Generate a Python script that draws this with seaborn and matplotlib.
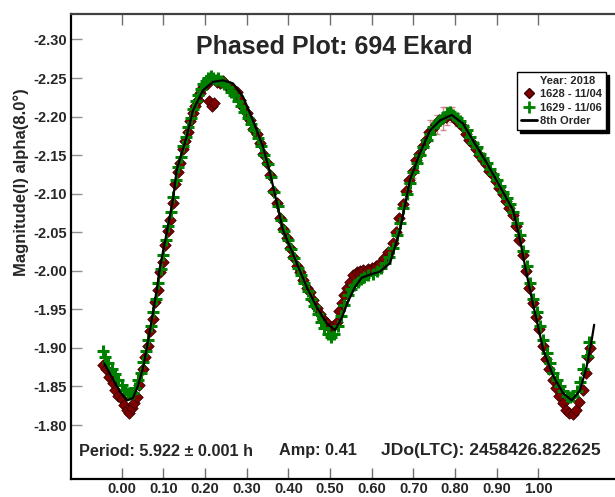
import numpy as np
import matplotlib
matplotlib.use("Agg")
import matplotlib.pyplot as plt
from matplotlib.lines import Line2D
import seaborn as sns

# 1628 - 11/04 (dark red diamonds)
red_phase = [-0.045, -0.038, -0.030, -0.022, -0.015, -0.008, 0.000, 0.006, 0.012, 0.018,
             0.024, 0.030, 0.036, 0.042, 0.050, 0.056, 0.062, 0.068, 0.074, 0.080,
             0.086, 0.092, 0.098, 0.104, 0.110, 0.116, 0.122, 0.128, 0.134, 0.140,
             0.146, 0.152, 0.158, 0.164, 0.170, 0.176, 0.182, 0.188, 0.196, 0.204,
             0.210, 0.216, 0.222, 0.228, 0.236, 0.244, 0.252, 0.260, 0.268, 0.276,
             0.284, 0.292, 0.300, 0.308, 0.316, 0.324, 0.332, 0.340, 0.348, 0.356,
             0.364, 0.372, 0.380, 0.388, 0.396, 0.404, 0.412, 0.420, 0.428, 0.436,
             0.444, 0.452, 0.460, 0.468, 0.476, 0.484, 0.492, 0.500, 0.508, 0.516,
             0.522, 0.528, 0.534, 0.540, 0.548, 0.556, 0.564, 0.572, 0.580, 0.590,
             0.600, 0.610, 0.620, 0.630, 0.640, 0.650, 0.658, 0.666, 0.674, 0.682,
             0.690, 0.698, 0.706, 0.714, 0.722, 0.730, 0.738, 0.746, 0.754, 0.762,
             0.770, 0.778, 0.786, 0.794, 0.802, 0.810, 0.818, 0.826, 0.834, 0.842,
             0.850, 0.858, 0.866, 0.874, 0.882, 0.890, 0.898, 0.906, 0.914, 0.922,
             0.930, 0.938, 0.946, 0.954, 0.962, 0.970, 0.978, 0.986, 0.994, 1.002,
             1.010, 1.018, 1.026, 1.034, 1.042, 1.050, 1.058, 1.066, 1.074, 1.082,
             1.090, 1.098, 1.106, 1.114, 1.120, 1.124]
red_mag = [-1.878, -1.872, -1.862, -1.855, -1.846, -1.838, -1.834, -1.826, -1.820, -1.815,
           -1.822, -1.828, -1.836, -1.852, -1.872, -1.888, -1.903, -1.922, -1.938, -1.960,
           -1.975, -1.998, -2.012, -2.034, -2.052, -2.066, -2.088, -2.112, -2.128, -2.140,
           -2.158, -2.168, -2.180, -2.194, -2.205, -2.214, -2.222, -2.230, -2.238, -2.242,
           -2.220, -2.214, -2.218, -2.245, -2.243, -2.246, -2.240, -2.238, -2.236, -2.232,
           -2.222, -2.212, -2.205, -2.196, -2.184, -2.177, -2.166, -2.152, -2.140, -2.124,
           -2.104, -2.088, -2.068, -2.054, -2.042, -2.030, -2.018, -2.006, -1.998, -1.988,
           -1.978, -1.972, -1.962, -1.952, -1.944, -1.938, -1.932, -1.926, -1.928, -1.934,
           -1.948, -1.958, -1.968, -1.978, -1.986, -1.994, -1.999, -2.000, -2.001, -2.002,
           -2.003, -2.006, -2.010, -2.016, -2.024, -2.036, -2.050, -2.068, -2.086, -2.104,
           -2.118, -2.130, -2.144, -2.152, -2.162, -2.170, -2.180, -2.185, -2.190, -2.196,
           -2.198, -2.200, -2.203, -2.200, -2.196, -2.192, -2.186, -2.178, -2.170, -2.164,
           -2.158, -2.150, -2.144, -2.138, -2.130, -2.124, -2.116, -2.108, -2.100, -2.090,
           -2.082, -2.072, -2.058, -2.040, -2.020, -2.000, -1.978, -1.958, -1.940, -1.924,
           -1.902, -1.886, -1.872, -1.858, -1.848, -1.838, -1.828, -1.820, -1.816, -1.814,
           -1.820, -1.830, -1.846, -1.868, -1.888, -1.900]

# 1629 - 11/06 (green plus)
green_phase = [-0.046, -0.040, -0.032, -0.024, -0.016, -0.008, 0.000, 0.008, 0.014, 0.020,
               0.026, 0.032, 0.040, 0.046, 0.052, 0.058, 0.064, 0.070, 0.076, 0.082,
               0.088, 0.094, 0.100, 0.106, 0.112, 0.118, 0.124, 0.130, 0.136, 0.142,
               0.148, 0.154, 0.160, 0.166, 0.172, 0.178, 0.184, 0.190, 0.196, 0.202,
               0.208, 0.214, 0.220, 0.226, 0.232, 0.238, 0.246, 0.254, 0.262, 0.270,
               0.278, 0.286, 0.294, 0.302, 0.310, 0.318, 0.326, 0.334, 0.342, 0.350,
               0.358, 0.366, 0.374, 0.382, 0.390, 0.398, 0.406, 0.414, 0.422, 0.430,
               0.438, 0.446, 0.454, 0.462, 0.470, 0.478, 0.486, 0.494, 0.502, 0.510,
               0.518, 0.526, 0.534, 0.542, 0.550, 0.558, 0.566, 0.574, 0.582, 0.592,
               0.602, 0.612, 0.622, 0.632, 0.642, 0.652, 0.660, 0.668, 0.676, 0.684,
               0.692, 0.700, 0.708, 0.716, 0.724, 0.732, 0.740, 0.748, 0.756, 0.764,
               0.772, 0.780, 0.788, 0.796, 0.804, 0.812, 0.820, 0.828, 0.836, 0.844,
               0.852, 0.860, 0.868, 0.876, 0.884, 0.892, 0.900, 0.908, 0.916, 0.924,
               0.932, 0.940, 0.948, 0.956, 0.964, 0.972, 0.980, 0.988, 0.996, 1.004,
               1.012, 1.020, 1.028, 1.036, 1.044, 1.052, 1.060, 1.068, 1.076, 1.084,
               1.092, 1.100, 1.108, 1.116, 1.122]
green_mag = [-1.896, -1.888, -1.880, -1.872, -1.866, -1.858, -1.852, -1.846, -1.842, -1.840,
             -1.842, -1.848, -1.858, -1.868, -1.882, -1.896, -1.910, -1.928, -1.946, -1.964,
             -1.984, -2.002, -2.020, -2.040, -2.058, -2.076, -2.096, -2.118, -2.134, -2.148,
             -2.162, -2.174, -2.186, -2.198, -2.210, -2.220, -2.228, -2.236, -2.242, -2.246,
             -2.250, -2.252, -2.250, -2.248, -2.250, -2.246, -2.242, -2.238, -2.232, -2.228,
             -2.220, -2.214, -2.206, -2.198, -2.190, -2.182, -2.172, -2.162, -2.150, -2.138,
             -2.122, -2.102, -2.084, -2.066, -2.052, -2.040, -2.028, -2.016, -2.004, -1.994,
             -1.984, -1.974, -1.964, -1.954, -1.944, -1.934, -1.926, -1.918, -1.914, -1.918,
             -1.928, -1.942, -1.956, -1.968, -1.976, -1.982, -1.986, -1.990, -1.992, -1.994,
             -1.996, -2.000, -2.004, -2.010, -2.018, -2.030, -2.046, -2.062, -2.082, -2.100,
             -2.114, -2.128, -2.140, -2.150, -2.160, -2.170, -2.178, -2.186, -2.192, -2.196,
             -2.200, -2.204, -2.206, -2.202, -2.198, -2.194, -2.188, -2.182, -2.174, -2.166,
             -2.160, -2.152, -2.146, -2.140, -2.132, -2.126, -2.118, -2.110, -2.102, -2.094,
             -2.086, -2.076, -2.062, -2.046, -2.026, -2.006, -1.984, -1.964, -1.946, -1.928,
             -1.910, -1.894, -1.880, -1.868, -1.858, -1.850, -1.844, -1.838, -1.836, -1.838,
             -1.844, -1.856, -1.872, -1.890, -1.908]

# error bars visible on some 1628 points near the second maximum
err_phase = [0.660, 0.682, 0.700, 0.722, 0.740, 0.756, 0.770, 0.780, 0.792, 0.804]
err_mag = [-2.060, -2.104, -2.132, -2.160, -2.182, -2.190, -2.198, -2.201, -2.203, -2.196]
err_size = [0.008, 0.010, 0.012, 0.010, 0.014, 0.012, 0.015, 0.012, 0.010, 0.008]

# 8th order fit
fit_phase = [-0.042, -0.023, -0.004, 0.013, 0.027, 0.039, 0.052, 0.068, 0.084, 0.092,
             0.108, 0.123, 0.132, 0.156, 0.171, 0.195, 0.219, 0.243, 0.267, 0.291,
             0.315, 0.339, 0.356, 0.387, 0.420, 0.444, 0.468, 0.492, 0.512, 0.528,
             0.543, 0.560, 0.576, 0.596, 0.620, 0.644, 0.668, 0.692, 0.716, 0.740,
             0.764, 0.792, 0.819, 0.843, 0.876, 0.908, 0.939, 0.956, 0.970, 0.985,
             0.996, 1.012, 1.036, 1.060, 1.080, 1.100, 1.116, 1.128, 1.134]
fit_mag = [-1.880, -1.861, -1.843, -1.832, -1.835, -1.851, -1.876, -1.923, -1.975, -2.005,
           -2.049, -2.092, -2.131, -2.174, -2.208, -2.234, -2.245, -2.247, -2.243, -2.226,
           -2.195, -2.161, -2.127, -2.053, -2.010, -1.979, -1.953, -1.932, -1.923, -1.939,
           -1.960, -1.979, -1.991, -1.995, -1.999, -2.010, -2.053, -2.118, -2.153, -2.182,
           -2.195, -2.202, -2.191, -2.169, -2.140, -2.109, -2.079, -2.040, -2.001, -1.962,
           -1.936, -1.897, -1.863, -1.841, -1.832, -1.845, -1.876, -1.910, -1.930]

xtick_vals = [0.0, 0.1, 0.2, 0.3, 0.4, 0.5, 0.6, 0.7, 0.8, 0.9, 1.0]
ytick_vals = [-2.30, -2.25, -2.20, -2.15, -2.10, -2.05, -2.00, -1.95, -1.90, -1.85, -1.80]

sns.set_style("ticks")
plt.rcParams['font.family'] = ['Liberation Sans', 'DejaVu Sans']
plt.rcParams['font.weight'] = 'bold'

RED = '#800000'
GREEN = '#008000'

fig = plt.figure(figsize=(6.15, 4.97), dpi=100)
ax = fig.add_axes([71 / 615, 18 / 497, 1 - 71 / 615, (479 - 14) / 497])

ax.errorbar(err_phase, err_mag, yerr=err_size, fmt='none', ecolor='#c06060',
            alpha=0.7, elinewidth=1, capsize=2.5, zorder=1)
sns.scatterplot(x=red_phase, y=red_mag, marker='D', color=RED, s=34,
                edgecolor='#3a0000', linewidth=0.6, ax=ax, zorder=2)
sns.scatterplot(x=green_phase, y=green_mag, marker='+', color=GREEN, s=80,
                linewidth=2.2, ax=ax, zorder=3)
sns.lineplot(x=fit_phase, y=fit_mag, sort=False, color='black', lw=1.6,
             ax=ax, zorder=4)

ax.set_xlim(-0.1217, 1.184)
ax.set_ylim(-1.730, -2.333)
ax.set_xticks(xtick_vals)
ax.set_xticklabels([f"{v:.2f}" for v in xtick_vals])
ax.set_yticks(ytick_vals)
ax.set_yticklabels([f"{v:.2f}" for v in ytick_vals])
ax.tick_params(axis='x', direction='in', length=8, width=1, color='#707070',
               top=True, labelsize=10.5, pad=2.5)
ax.tick_params(axis='y', direction='in', length=8, width=1, color='#909090',
               labelsize=10.5, pad=3)
for lab in ax.get_xticklabels() + ax.get_yticklabels():
    lab.set_fontweight('bold')

ax.spines['right'].set_visible(False)
ax.spines['left'].set_color('black')
ax.spines['bottom'].set_color('black')
ax.spines['top'].set_color('#404040')
for s in ['left', 'bottom', 'top']:
    ax.spines[s].set_linewidth(1.6)
ax.set_xlabel('')
ax.set_ylabel('')

fig.text(334 / 615, 1 - 47 / 497, 'Phased Plot: 694 Ekard', ha='center', va='center',
         fontsize=18, fontweight='bold')
fig.text(21 / 615, 1 - 182 / 497, 'Magnitude(I) alpha(8.0°)', rotation=90,
         ha='center', va='center', fontsize=12, fontweight='bold')
fig.text(79 / 615, 1 - 451 / 497, 'Period: 5.922 ± 0.001 h', ha='left', va='center',
         fontsize=11.7, fontweight='bold')
fig.text(279 / 615, 1 - 451 / 497, 'Amp: 0.41', ha='left', va='center',
         fontsize=11.7, fontweight='bold')
fig.text(381 / 615, 1 - 451 / 497, 'JDo(LTC): 2458426.822625', ha='left', va='center',
         fontsize=12.6, fontweight='bold')

handles = [
    Line2D([], [], linestyle='none', marker=None),
    Line2D([], [], linestyle='none', marker='D', color=RED, markersize=5,
           markeredgecolor='#3a0000'),
    Line2D([], [], linestyle='none', marker='+', color=GREEN, markersize=8,
           markeredgewidth=2),
    Line2D([], [], color='black', lw=2),
]
labels = ['Year: 2018', '1628 - 11/04', '1629 - 11/06', '8th Order']
leg = ax.legend(handles, labels, loc='upper right',
                bbox_to_anchor=(606 / 615, 1 - 72 / 497), bbox_transform=fig.transFigure,
                prop={'size': 8, 'weight': 'bold'}, frameon=True, fancybox=False,
                shadow={'color': 'black', 'alpha': 1}, borderpad=0.35,
                labelspacing=0.3, handlelength=1.4, handletextpad=0.3, borderaxespad=0)
leg.get_frame().set_edgecolor('black')
leg.get_frame().set_linewidth(1)

fig.savefig('out.png', dpi=100)
